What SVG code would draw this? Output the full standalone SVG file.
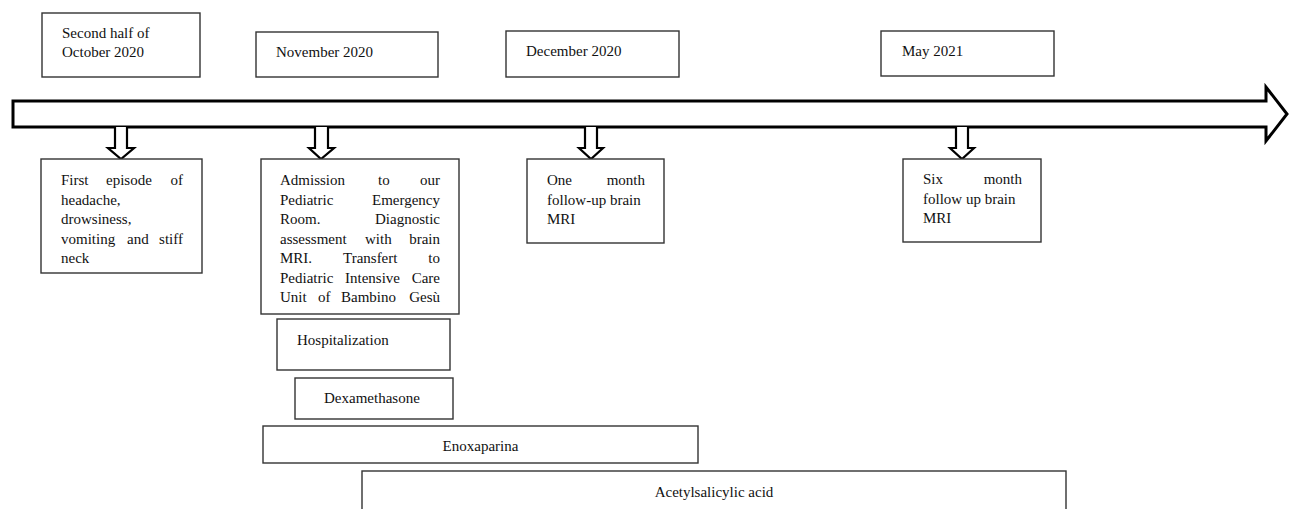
<svg xmlns="http://www.w3.org/2000/svg" width="1289" height="509" viewBox="0 0 1289 509">
<style>
.box{fill:#fff;stroke:#333;stroke-width:1.4}
.t{font-family:"Liberation Serif","Times New Roman",serif;font-size:15px;fill:#111}
.e{text-anchor:end}
.m{text-anchor:middle}
.arr{fill:#fff;stroke:#000;stroke-width:2.2;stroke-linejoin:miter}
.tl{fill:#fff;stroke:#000;stroke-width:3;stroke-linejoin:miter}
</style>
<rect width="1289" height="509" fill="#fff"/>
<g id="timeline">
<polygon class="tl" points="13,101 1266,101 1266,87 1287,114 1266,141 1266,127 13,127"/>
</g>
<g id="connectors">
<polyline class="arr" points="115,127 115,148 108,148 121,159 134,148 127,148 127,127"/>
<polyline class="arr" points="315,127 315,148 309,148 321,159 334,148 328,148 328,127"/>
<polyline class="arr" points="585,127 585,148 579,148 591,159 603,148 597,148 597,127"/>
<polyline class="arr" points="956,127 956,148 950,148 962,159 974,148 968,148 968,127"/>
</g>
<g id="date-oct">
<rect class="box" x="42" y="13" width="158" height="64"/>
<text class="t" x="62" y="38">Second half of</text>
<text class="t" x="62" y="57">October 2020</text>
</g>
<g id="date-nov">
<rect class="box" x="256" y="32" width="182" height="45"/>
<text class="t" x="276" y="57">November 2020</text>
</g>
<g id="date-dec">
<rect class="box" x="506" y="31" width="173" height="46"/>
<text class="t" x="526" y="56">December 2020</text>
</g>
<g id="date-may">
<rect class="box" x="881" y="31" width="173" height="45"/>
<text class="t" x="902" y="56">May 2021</text>
</g>
<g id="event-first">
<rect class="box" x="41" y="159" width="161" height="114"/>
<text class="t" x="61" y="185">First</text>
<text class="t" x="106" y="185">episode</text>
<text class="t e" x="183" y="185">of</text>
<text class="t" x="61" y="204.5">headache,</text>
<text class="t" x="61" y="224">drowsiness,</text>
<text class="t" x="61" y="243.5">vomiting</text>
<text class="t" x="127" y="243.5">and</text>
<text class="t e" x="183" y="243.5">stiff</text>
<text class="t" x="61" y="263">neck</text>
</g>
<g id="event-admission">
<rect class="box" x="261" y="159" width="198" height="155"/>
<text class="t" x="280" y="185">Admission</text>
<text class="t" x="378" y="185">to</text>
<text class="t e" x="440" y="185">our</text>
<text class="t" x="280" y="204.5">Pediatric</text>
<text class="t e" x="440" y="204.5">Emergency</text>
<text class="t" x="280" y="224">Room.</text>
<text class="t e" x="440" y="224">Diagnostic</text>
<text class="t" x="280" y="243.5">assessment</text>
<text class="t" x="365" y="243.5">with</text>
<text class="t e" x="440" y="243.5">brain</text>
<text class="t" x="280" y="263">MRI.</text>
<text class="t" x="343" y="263">Transfert</text>
<text class="t e" x="440" y="263">to</text>
<text class="t" x="280" y="282.5">Pediatric</text>
<text class="t" x="345" y="282.5">Intensive</text>
<text class="t e" x="440" y="282.5">Care</text>
<text class="t" x="280" y="302">Unit</text>
<text class="t" x="318" y="302">of</text>
<text class="t" x="341" y="302">Bambino</text>
<text class="t e" x="440" y="302">Gesù</text>
</g>
<g id="event-dec">
<rect class="box" x="527" y="159" width="137" height="84"/>
<text class="t" x="547" y="185">One</text>
<text class="t e" x="645" y="185">month</text>
<text class="t" x="547" y="204.5">follow-up brain</text>
<text class="t" x="547" y="224">MRI</text>
</g>
<g id="event-may">
<rect class="box" x="903" y="159" width="138" height="83"/>
<text class="t" x="923" y="184">Six</text>
<text class="t e" x="1022" y="184">month</text>
<text class="t" x="923" y="203.5">follow up brain</text>
<text class="t" x="923" y="223">MRI</text>
</g>
<g id="hospitalization">
<rect class="box" x="277" y="319" width="173" height="51"/>
<text class="t" x="297" y="345">Hospitalization</text>
</g>
<g id="dexamethasone">
<rect class="box" x="295" y="378" width="158" height="41"/>
<text class="t" x="324" y="403">Dexamethasone</text>
</g>
<g id="enoxaparina">
<rect class="box" x="263" y="426" width="435" height="37"/>
<text class="t m" x="480.5" y="451">Enoxaparina</text>
</g>
<g id="acetylsalicylic">
<rect class="box" x="362" y="471" width="704" height="50"/>
<text class="t m" x="714" y="497">Acetylsalicylic acid</text>
</g>
</svg>
